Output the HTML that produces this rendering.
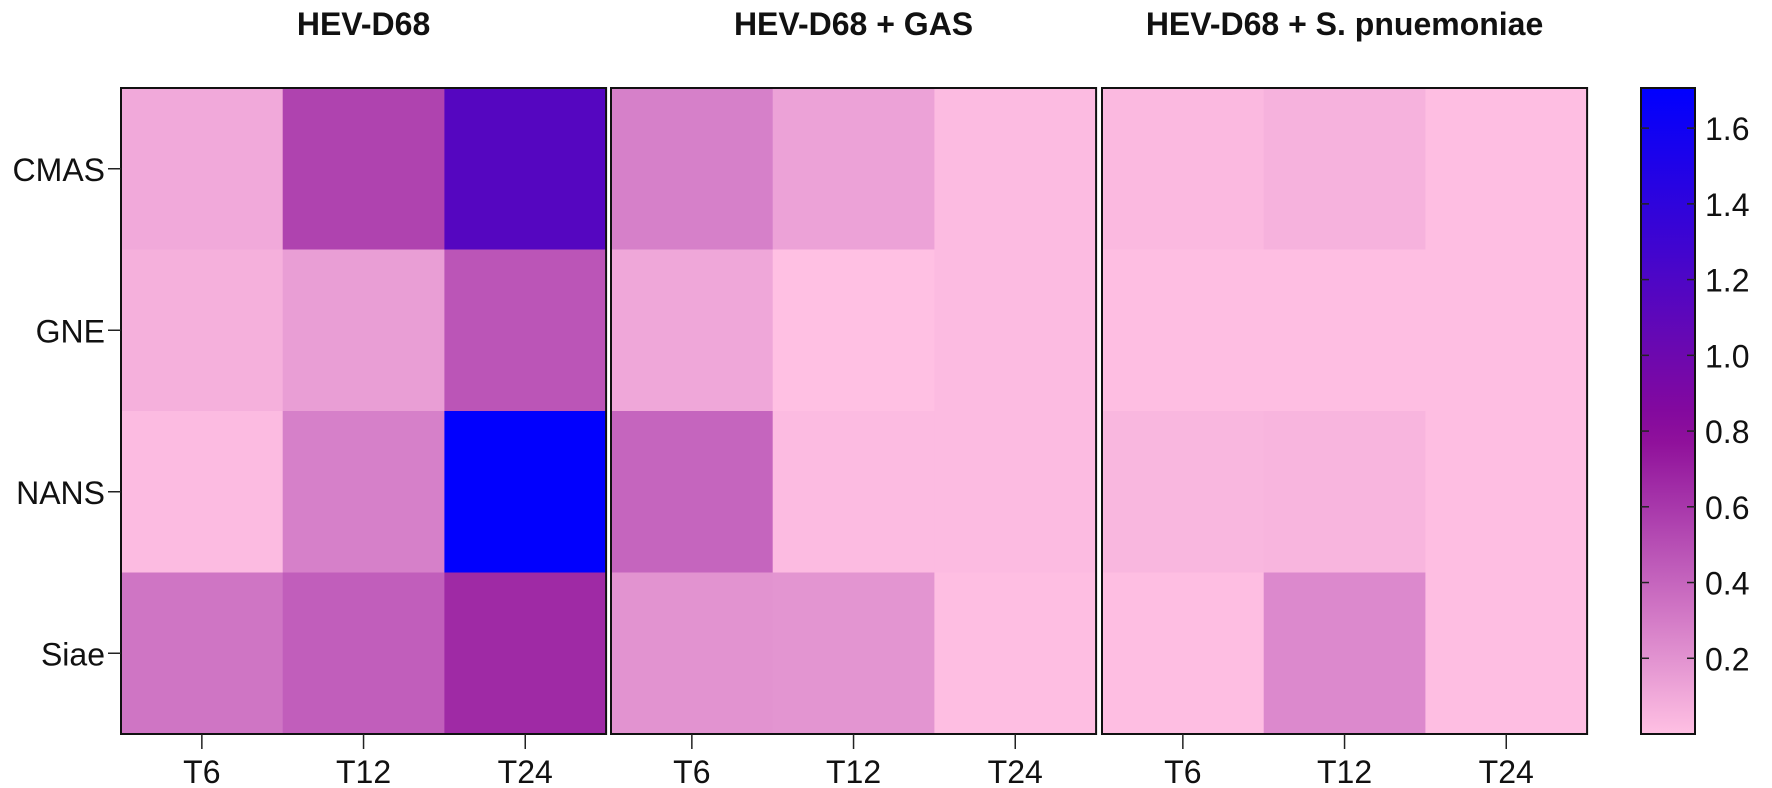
<!DOCTYPE html>
<html><head><meta charset="utf-8"><style>
html,body{margin:0;padding:0;background:#fff;}
svg{display:block;font-family:"Liberation Sans",Arial,sans-serif;}
</style></head><body>
<svg id="chart" width="1772" height="788" viewBox="0 0 1772 788"></svg>
<script>
const panels = ["HEV-D68", "HEV-D68 + GAS", "HEV-D68 + S. pnuemoniae"];
const genes = ["CMAS", "GNE", "NANS", "Siae"];
const times = ["T6", "T12", "T24"];
const panel1Values = [[0.10,0.55,1.15],[0.07,0.15,0.47],[0.02,0.28,1.70],[0.33,0.43,0.66]];
const panel2Values = [[0.28,0.13,0.02],[0.11,0.00,0.02],[0.40,0.02,0.02],[0.20,0.19,0.01]];
const panel3Values = [[0.03,0.06,0.01],[0.01,0.01,0.01],[0.04,0.05,0.01],[0.01,0.24,0.01]];
const colorTicks = [0.2,0.4,0.6,0.8,1.0,1.2,1.4,1.6];
const colorMax = 1.706;

const NS="http://www.w3.org/2000/svg";
const svg=document.getElementById('chart');
function mk(tag,attrs,parent){const e=document.createElementNS(NS,tag);for(const k in attrs)e.setAttribute(k,attrs[k]);(parent||svg).appendChild(e);return e;}
function lerp(a,b,t){return a.map((v,i)=>Math.round(v+(b[i]-v)*t));}
function color(v){
  const p=[255,192,227],m=[139,10,152],b=[0,0,255];
  let c; if(v<=0.8)c=lerp(p,m,Math.max(0,v)/0.8); else c=lerp(m,b,Math.min(1,(v-0.8)/(colorMax-0.8)));
  return `rgb(${c[0]},${c[1]},${c[2]})`;
}
const topY=88,bottomY=734,rowH=(bottomY-topY)/genes.length;
const panelX=[121,611,1102],colW=161.7;
function xPos(p,j){return panelX[p]+j*colW;}
function yPos(i){return topY+i*rowH;}
const allVals=[panel1Values,panel2Values,panel3Values];

allVals.forEach((vals,p)=>{
  const g=mk('g',{});
  
  
  vals.forEach((row,i)=>row.forEach((v,j)=>{
    const r=mk('rect',{x:xPos(p,j),y:yPos(i),width:colW+0.5,height:rowH+0.5,fill:color(v)},g);
    
    
  }));
  const fr=mk('rect',{x:panelX[p],y:topY,width:colW*3,height:bottomY-topY,fill:'none',stroke:'#111','stroke-width':2},g);
  
  
  const t=mk('text',{x:panelX[p]+colW*1.5,y:35,'text-anchor':'middle','font-size':32,'font-weight':'bold',fill:'#111'},g);
  t.textContent=panels[p];
  
  
  times.forEach((tm,j)=>{
    const cx=xPos(p,j)+colW/2;
    const tk=mk('line',{x1:cx,y1:bottomY,x2:cx,y2:bottomY+15,stroke:'#222','stroke-width':1.5},g);
    
    
    const l=mk('text',{x:cx,y:783,'text-anchor':'middle','font-size':32,fill:'#111'},g);
    l.textContent=tm;
    
    
  });
});
genes.forEach((gn,i)=>{
  const cy=yPos(i)+rowH/2;
  const tk=mk('line',{x1:108,y1:cy,x2:121,y2:cy,stroke:'#222','stroke-width':1.5});
  
  
  const l=mk('text',{x:105,y:cy+12,'text-anchor':'end','font-size':32,fill:'#111'});
  l.textContent=gn;
  
  
});
const cbX=1641,cbW=54;
const defs=mk('defs',{});
const grad=mk('linearGradient',{id:'cbg',x1:0,y1:1,x2:0,y2:0},defs);
for(let k=0;k<=20;k++){const v=colorMax*k/20;mk('stop',{offset:k/20,'stop-color':color(v)},grad);}
const cb=mk('rect',{x:cbX,y:topY,width:cbW,height:bottomY-topY,fill:'url(#cbg)',stroke:'#111','stroke-width':2});


function cbY(v){return bottomY-(v/colorMax)*(bottomY-topY);}
colorTicks.forEach(v=>{
  const y=cbY(v);
  const a=mk('line',{x1:cbX,y1:y,x2:cbX+8,y2:y,stroke:'#222','stroke-width':1.5});
  
  
  const b=mk('line',{x1:cbX+cbW-8,y1:y,x2:cbX+cbW,y2:y,stroke:'#222','stroke-width':1.5});
  
  
  const l=mk('text',{x:cbX+cbW+10,y:y+12,'font-size':32,fill:'#111'});
  l.textContent=v.toFixed(1);
  
  
});
</script>
</body></html>
